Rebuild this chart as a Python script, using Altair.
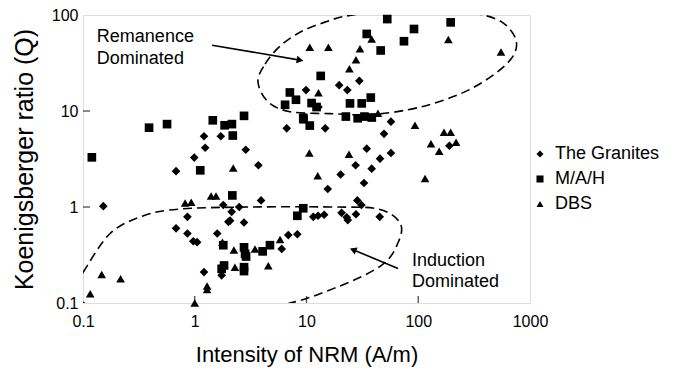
import altair as alt
import pandas as pd

# ---- data ----
gran_x = [0.152, 1.21, 1.71, 1.24, 0.99, 0.68, 1.80, 6.65, 14.7, 2.86, 3.71, 15.5, 20.2, 27.5, 34.6, 32.7,
          38.3, 2.5, 3.92, 28.5, 31.0, 57, 49.4, 190, 57, 45.5, 29.7, 19.6, 23.2, 9.9, 12.8, 0.86, 0.68,
          0.86, 0.97, 1.05, 1.59, 2.0, 1.21, 1.74, 2.14, 2.07, 2.76, 6.0, 6.87, 8.28, 11.5, 12.7, 14.4,
          20.6, 22.9, 27.7, 45.2, 23.4]
gran_y = [1.02, 5.46, 5.46, 4.14, 3.27, 2.36, 1.05, 6.6, 6.6, 3.95, 2.72, 1.54, 2.18, 2.72, 4.05, 1.78,
          2.51, 1.0, 1.17, 1.17, 1.05, 7.75, 5.78, 4.35, 3.65, 3.19, 20.6, 18.6, 16.5, 16.5, 11.0, 0.79, 0.60,
          0.53, 0.44, 0.43, 0.53, 0.70, 0.21, 0.194, 0.89, 0.72, 0.69, 0.366, 0.51, 0.52, 0.79, 0.81, 0.83,
          0.87, 0.78, 0.84, 0.79, 0.73]

mah_x = [0.12, 0.39, 0.565, 1.45, 1.85, 2.15, 1.12, 2.17, 2.76, 2.19, 10.7, 9.35, 9.35, 52.8, 195, 91.6,
         74.5, 34.6, 46.1, 13.4, 11.1, 12.3, 24.5, 31.2, 37.6, 7.1, 8.05, 6.43, 9.4, 22.5, 28.7, 33.0, 38.4,
         8.28, 1.74, 1.83, 2.76, 2.82, 2.88, 4.05, 4.71, 2.76, 2.76, 1.8]
mah_y = [3.29, 6.7, 7.3, 8.0, 7.1, 7.3, 2.41, 1.32, 8.9, 5.55, 7.05, 8.5, 0.97, 90.7, 83.8, 71.5,
         53.3, 63.5, 42.7, 23.2, 12.1, 11.0, 12.0, 12.0, 13.8, 15.6, 13.1, 11.6, 8.2, 8.75, 8.4, 8.75, 8.55,
         0.81, 0.227, 0.246, 0.38, 0.325, 0.305, 0.345, 0.40, 0.236, 0.215, 0.40]

dbs_x = [0.82, 0.93, 1.40, 1.55, 2.21, 10.6, 12.6, 24.0, 93.5, 170, 195, 130, 218, 154, 115, 186, 550,
         38.3, 10.7, 15.7, 30.1, 27.7, 24.2, 12.8, 43.6, 0.147, 0.217, 0.116, 1.0, 1.29, 1.29, 1.77, 2.24,
         3.46, 5.8, 2.29, 4.55]
dbs_y = [1.1, 1.12, 1.3, 1.3, 2.55, 3.65, 2.11, 3.55, 7.1, 6.0, 6.0, 4.56, 4.73, 3.8, 1.98, 55.5, 41.1,
         56.3, 46.2, 46.2, 44.4, 34.2, 27.6, 15.5, 9.5, 0.198, 0.179, 0.125, 0.1, 0.138, 0.15, 0.43, 0.356,
         0.366, 0.46, 0.236, 0.245]

series_names = ["The Granites", "M/A/H", "DBS"]
series_shapes = ["diamond", "square", "triangle-up"]

x_ticks = [0.1, 1, 10, 100, 1000]
y_ticks = [0.1, 1, 10, 100]

# outlines of the two hand-drawn dashed regions (data units)
upper_x = [3.68, 4.26, 5.79, 8.75, 14.4, 24.5, 68.7, 192, 395, 597, 750, 705, 497, 284, 153, 80.9,
           37.0, 16.2, 7.11, 4.52]
upper_y = [20.1, 30.8, 47.3, 66.1, 83.8, 99, 111.6, 111.6, 99, 80.0, 54.6, 37.3, 24.9, 16.6, 12.5, 10.3,
           9.16, 9.38, 9.84, 12.5]
lower_x = [0.0797, 0.1, 0.174, 0.344, 0.738, 3.12, 16.2, 43.6, 68.7, 65.9, 46.5, 17.6, 5.79, 1.11,
           0.214, 0.104]
lower_y = [0.135, 0.208, 0.526, 0.807, 0.953, 1.0, 1.0, 0.953, 0.683, 0.424, 0.245, 0.142, 0.0947,
           0.0764, 0.080, 0.099]

ann_text = ["Remanence", "Dominated", "Induction", "Dominated"]
ann_x = [0.133, 0.133, 88, 88]
ann_y = [58.7, 34.7, 0.275, 0.166]

arrow_x1 = [1.43, 65.9]
arrow_y1 = [48.5, 0.229]
arrow_x2 = [8.75, 26.1]
arrow_y2 = [33.9, 0.359]
arrow_angle = [9.7, 202.9]

# ---- build tables ----
pts = pd.concat([
    pd.DataFrame({"x": gran_x, "y": gran_y, "s": series_names[0]}),
    pd.DataFrame({"x": mah_x, "y": mah_y, "s": series_names[1]}),
    pd.DataFrame({"x": dbs_x, "y": dbs_y, "s": series_names[2]}),
])
outl = pd.concat([
    pd.DataFrame({"x": upper_x, "y": upper_y, "i": range(len(upper_x)), "e": "u"}),
    pd.DataFrame({"x": lower_x, "y": lower_y, "i": range(len(lower_x)), "e": "l"}),
])
ann = pd.DataFrame({"x": ann_x, "y": ann_y, "t": ann_text})
arr = pd.DataFrame({"x": arrow_x1, "y": arrow_y1, "x2": arrow_x2, "y2": arrow_y2, "ang": arrow_angle})
xt = pd.DataFrame({"v": x_ticks[1:-1]})
yt = pd.DataFrame({"v": y_ticks[1:-1]})

W, H = 447, 288
FONT = "Liberation Sans, Arial, sans-serif"

xs = alt.Scale(type="log", domain=[0.1, 1000])
ys = alt.Scale(type="log", domain=[0.1, 100])

xax = alt.Axis(values=x_ticks, format=".4~g", ticks=False, grid=False, domain=False,
               labelFont=FONT, labelFontSize=16, labelColor="black", labelPadding=10,
               title="Intensity of NRM (A/m)", titleFont=FONT, titleFontSize=22,
               titleFontWeight="normal", titleColor="black", titlePadding=15,
               labelFlush=False, labelOverlap=False)
yax = alt.Axis(values=y_ticks, format=".4~g", ticks=False, grid=False, domain=False,
               labelFont=FONT, labelFontSize=16, labelColor="black", labelPadding=5,
               title="Koenigsberger ratio (Q)", titleFont=FONT, titleFontSize=25,
               titleFontWeight="normal", titleColor="black", titlePadding=14,
               labelFlush=False, labelOverlap=False)

points = alt.Chart(pts).mark_point(filled=True, color="black", opacity=1, size=75).encode(
    x=alt.X("x:Q", scale=xs, axis=xax),
    y=alt.Y("y:Q", scale=ys, axis=yax),
    shape=alt.Shape("s:N", scale=alt.Scale(domain=series_names, range=series_shapes),
                    legend=alt.Legend(title=None, orient="none", legendX=448, legendY=130,
                                      labelFont=FONT, labelFontSize=18, labelColor="black",
                                      symbolFillColor="black", symbolStrokeColor="black",
                                      symbolSize=50, rowPadding=7, labelOffset=6)),
)

outlines = alt.Chart(outl).mark_line(color="black", strokeDash=[9, 5], strokeWidth=1.6, clip=True,
                                     interpolate="cardinal-closed").encode(
    x=alt.X("x:Q", scale=xs), y=alt.Y("y:Q", scale=ys), order="i:Q", detail="e:N")

texts = alt.Chart(ann).mark_text(font=FONT, fontSize=18, align="left", baseline="middle",
                                 color="black").encode(
    x=alt.X("x:Q", scale=xs), y=alt.Y("y:Q", scale=ys), text="t:N")

arrows = alt.Chart(arr).mark_rule(color="black", strokeWidth=1.6).encode(
    x=alt.X("x:Q", scale=xs), y=alt.Y("y:Q", scale=ys), x2="x2:Q", y2="y2:Q")

heads = alt.Chart(arr).mark_point(shape="triangle-right", filled=True, color="black",
                                  opacity=1, size=60).encode(
    x=alt.X("x2:Q", scale=xs), y=alt.Y("y2:Q", scale=ys), angle=alt.Angle("ang:Q", scale=None))

xticks = alt.Chart(xt).mark_tick(orient="vertical", color="black", size=7, thickness=1.3).encode(
    x=alt.X("v:Q", scale=xs), y=alt.value(H - 3.5))
yticks = alt.Chart(yt).mark_tick(orient="horizontal", color="black", size=7, thickness=1.3).encode(
    y=alt.Y("v:Q", scale=ys), x=alt.value(3.5))

chart = alt.layer(outlines, arrows, heads, xticks, yticks, texts, points).properties(
    width=W, height=H,
    autosize=alt.AutoSizeParams(type="none"),
    padding={"left": 75, "top": 7, "right": 145, "bottom": 65},
).configure_view(stroke="black", strokeWidth=1.8).configure(background="white")

chart.save("out.html", embed_options={"renderer": "svg", "actions": False})
